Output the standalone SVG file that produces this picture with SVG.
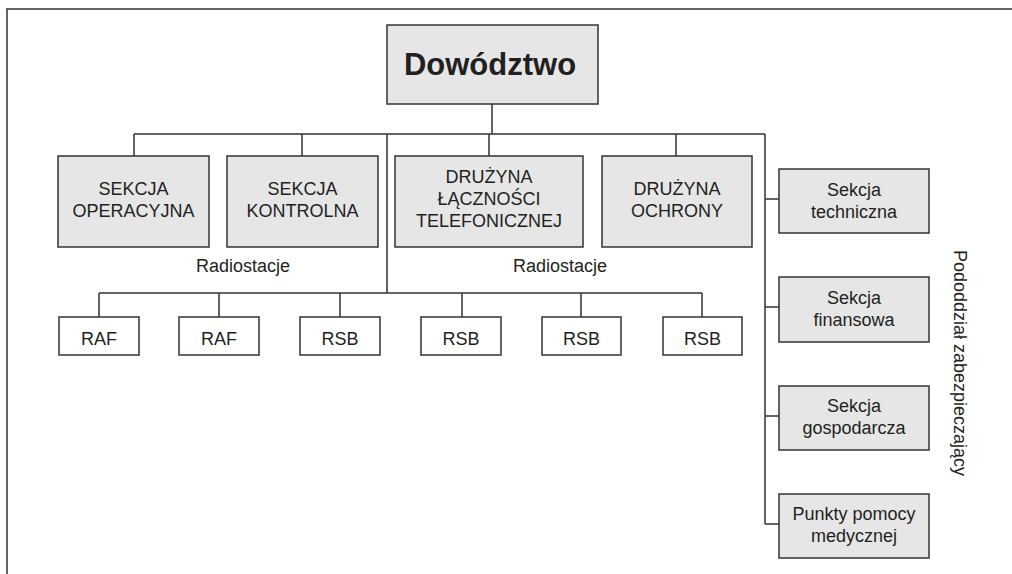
<svg xmlns="http://www.w3.org/2000/svg" width="1012" height="574" viewBox="0 0 1012 574">
<style>
.box{fill:#e6e6e6;stroke:#333;stroke-width:1.5}
.wbox{fill:#fff;stroke:#333;stroke-width:1.5}
.ln{fill:none;stroke:#333;stroke-width:1.5}
text{font-family:"Liberation Sans",Arial,sans-serif;fill:#231f20;text-anchor:middle}
.up{font-size:18px}
.sm{font-size:18px}
</style>
<rect width="1012" height="574" fill="#fff"/>
<path class="ln" d="M7,574 V9 H1012"/>
<g id="connectors">
<path class="ln" d="M492,104 V134 M134,134 H765 M134,134 V156 M302,134 V156 M489,134 V156 M676,134 V156 M387,134 V293 M99,293 H702 M99,293 V317 M219,293 V317 M340,293 V317 M462,293 V317 M581,293 V317 M702,293 V317 M765,134 V524 M765,199 H779 M765,307 H779 M765,416 H779 M765,524 H779"/>
</g>
<g id="dowodztwo"><rect class="box" x="387" y="25" width="211" height="79"/><text x="490" y="75" font-size="31" font-weight="bold">Dowództwo</text></g>
<g id="sekcja-operacyjna"><rect class="box" x="58" y="156" width="151" height="91"/><text class="up" x="133.5" y="195">SEKCJA</text><text class="up" x="133.5" y="217">OPERACYJNA</text></g>
<g id="sekcja-kontrolna"><rect class="box" x="227" y="156" width="151" height="91"/><text class="up" x="302.5" y="195">SEKCJA</text><text class="up" x="302.5" y="217">KONTROLNA</text></g>
<g id="druzyna-lacznosci"><rect class="box" x="395" y="156" width="188" height="91"/><text class="up" x="489" y="183">DRUŻYNA</text><text class="up" x="489" y="205">ŁĄCZNOŚCI</text><text class="up" x="489" y="227">TELEFONICZNEJ</text></g>
<g id="druzyna-ochrony"><rect class="box" x="602" y="156" width="150" height="91"/><text class="up" x="677" y="195">DRUŻYNA</text><text class="up" x="677" y="217">OCHRONY</text></g>
<g id="label-radio1"><text class="sm" x="243" y="272">Radiostacje</text></g>
<g id="label-radio2"><text class="sm" x="560" y="272">Radiostacje</text></g>
<g id="raf1"><rect class="wbox" x="59" y="317" width="80" height="38"/><text class="up" x="99" y="345">RAF</text></g>
<g id="raf2"><rect class="wbox" x="179" y="317" width="80" height="38"/><text class="up" x="219" y="345">RAF</text></g>
<g id="rsb1"><rect class="wbox" x="300" y="317" width="80" height="38"/><text class="up" x="340" y="345">RSB</text></g>
<g id="rsb2"><rect class="wbox" x="421" y="317" width="80" height="38"/><text class="up" x="461" y="345">RSB</text></g>
<g id="rsb3"><rect class="wbox" x="542" y="317" width="79" height="38"/><text class="up" x="581.5" y="345">RSB</text></g>
<g id="rsb4"><rect class="wbox" x="663" y="317" width="79" height="38"/><text class="up" x="702.5" y="345">RSB</text></g>
<g id="sekcja-techniczna"><rect class="box" x="779" y="169" width="150" height="64"/><text class="sm" x="854" y="196">Sekcja</text><text class="sm" x="854" y="218">techniczna</text></g>
<g id="sekcja-finansowa"><rect class="box" x="779" y="277" width="150" height="65"/><text class="sm" x="854" y="304">Sekcja</text><text class="sm" x="854" y="326">finansowa</text></g>
<g id="sekcja-gospodarcza"><rect class="box" x="779" y="386" width="150" height="64"/><text class="sm" x="854" y="412">Sekcja</text><text class="sm" x="854" y="434">gospodarcza</text></g>
<g id="punkty-pomocy"><rect class="box" x="779" y="494" width="150" height="64"/><text class="sm" x="854" y="520">Punkty pomocy</text><text class="sm" x="854" y="542">medycznej</text></g>
<g id="label-pododdzial"><text class="sm" transform="translate(954,363) rotate(90)">Pododdział zabezpieczający</text></g>
</svg>
